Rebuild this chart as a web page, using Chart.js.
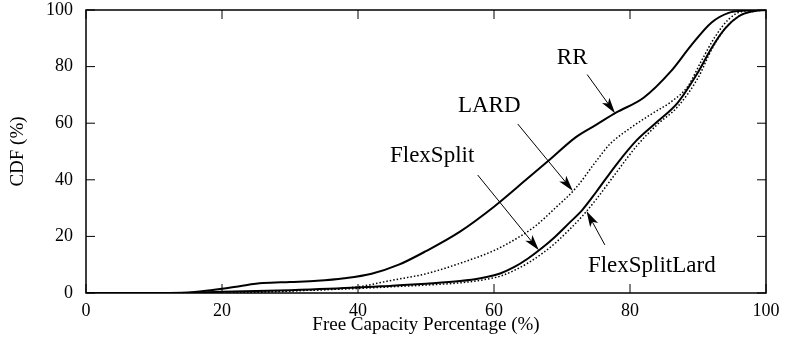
<!DOCTYPE html>
<html>
<head>
<meta charset="utf-8">
<script src="https://cdn.jsdelivr.net/npm/chart.js@4.4.1/dist/chart.umd.min.js"></script>
<style>
  html, body { margin: 0; padding: 0; background: #fff; }
  #wrap { width: 787px; height: 356px; }
</style>
</head>
<body>
<div id="wrap"><canvas id="cdfChart"></canvas></div>
<script>
// CDF of free capacity per policy
var rrX = [0, 14, 17, 20, 23, 26, 30, 34, 38, 42, 46, 50, 55, 60, 65, 68, 72, 75, 78, 82, 86, 89, 92, 94.5, 97, 100];
var rrY = [0, 0, 0.6, 1.5, 2.6, 3.5, 3.9, 4.3, 5.2, 6.8, 10, 14.8, 21.7, 30.5, 40.6, 46.7, 55, 59.4, 63.8, 69, 78.3, 87.5, 95.6, 99, 99.8, 100];

var lardX = [0, 20, 30, 40, 45, 50, 55, 60, 63, 66, 69, 72, 75, 77, 80, 83, 86, 88.5, 90.5, 92.5, 94.5, 96.5, 100];
var lardY = [0, 0, 0.7, 2.2, 4.5, 6.8, 10.5, 15, 18.8, 23.5, 30, 37, 46.5, 52.5, 58.2, 63, 67.5, 73, 82, 90.5, 96.7, 99.5, 100];

var flexX = [0, 10, 20, 30, 40, 45, 50, 55, 58, 61, 63, 65, 67, 69, 71, 73, 75, 78, 81, 84, 87, 90, 92, 94, 96, 98, 100];
var flexY = [0, 0, 0.4, 1.0, 1.9, 2.6, 3.3, 4.2, 5.2, 7.0, 9.2, 12.2, 15.8, 19.9, 24.6, 29.4, 35.6, 45.4, 54, 60.5, 67.2, 78, 86.6, 93.5, 97.8, 99.5, 100];

var flexLardX = [0, 10, 20, 30, 40, 45, 50, 55, 58, 61, 63, 65, 67, 69, 71, 73, 75, 78, 81, 84, 87, 90, 92, 94, 96, 98, 100];
var flexLardY = [0, 0, 0.3, 0.8, 1.6, 2.2, 2.8, 3.6, 4.5, 6.0, 8.0, 10.6, 13.8, 17.6, 22.2, 27.2, 33, 42.6, 52, 59.5, 65.8, 76, 86, 93.5, 97.8, 99.5, 100];

var xTicks = [0, 20, 40, 60, 80, 100];
var yTicks = [0, 20, 40, 60, 80, 100];

var serif = '"Liberation Serif", "Times New Roman", Times, serif';

function pts(xs, ys) {
  return xs.map(function (x, i) { return { x: x, y: ys[i] }; });
}

// y of a curve at x, straight line between samples
function valueAt(xs, ys, x) {
  for (var i = 1; i < xs.length; i++) {
    if (x <= xs[i]) {
      var t = (x - xs[i - 1]) / (xs[i] - xs[i - 1]);
      return ys[i - 1] + t * (ys[i] - ys[i - 1]);
    }
  }
  return ys[ys.length - 1];
}

// labels with arrows pointing at the curves (data units)
var notes = [
  { text: 'RR', at: [71.5, 83], from: [73.7, 77.2], tipX: 77.8, xs: rrX, ys: rrY },
  { text: 'LARD', at: [59.3, 66], from: [63.5, 59.7], tipX: 71.6, xs: lardX, ys: lardY },
  { text: 'FlexSplit', at: [50.9, 48.4], from: [57.6, 41.7], tipX: 66.6, xs: flexX, ys: flexY },
  { text: 'FlexSplitLard', at: [83.2, 9.5], from: [76.3, 17], tipX: 73.6, xs: flexLardX, ys: flexLardY }
];

function arrow(ctx, fx, fy, tx, ty) {
  var ang = Math.atan2(ty - fy, tx - fx);
  var len = 16, half = 4.5, notch = 4;
  ctx.beginPath();
  ctx.moveTo(fx, fy);
  ctx.lineTo(tx - Math.cos(ang) * notch, ty - Math.sin(ang) * notch);
  ctx.stroke();
  ctx.save();
  ctx.translate(tx, ty);
  ctx.rotate(ang);
  ctx.beginPath();
  ctx.moveTo(0, 0);
  ctx.lineTo(-len, -half);
  ctx.lineTo(-len + notch, 0);
  ctx.lineTo(-len, half);
  ctx.closePath();
  ctx.fill();
  ctx.restore();
}

var framePlugin = {
  id: 'frame',
  afterDatasetsDraw: function (chart) {
    var ctx = chart.ctx, a = chart.chartArea;
    var sx = chart.scales.x, sy = chart.scales.y;
    ctx.save();
    ctx.strokeStyle = '#000';
    ctx.fillStyle = '#000';
    ctx.lineWidth = 1.5;
    ctx.strokeRect(a.left, a.top, a.right - a.left, a.bottom - a.top);

    // inward ticks on all four sides
    ctx.lineWidth = 1;
    var tk = 9;
    ctx.beginPath();
    xTicks.forEach(function (v) {
      var px = sx.getPixelForValue(v);
      ctx.moveTo(px, a.bottom); ctx.lineTo(px, a.bottom - tk);
      ctx.moveTo(px, a.top); ctx.lineTo(px, a.top + tk);
    });
    yTicks.forEach(function (v) {
      var py = sy.getPixelForValue(v);
      ctx.moveTo(a.left, py); ctx.lineTo(a.left + tk, py);
      ctx.moveTo(a.right, py); ctx.lineTo(a.right - tk, py);
    });
    ctx.stroke();

    ctx.font = '23px ' + serif;
    ctx.textAlign = 'center';
    ctx.textBaseline = 'middle';
    notes.forEach(function (n) {
      ctx.fillText(n.text, sx.getPixelForValue(n.at[0]), sy.getPixelForValue(n.at[1]));
      var ty = valueAt(n.xs, n.ys, n.tipX);
      arrow(ctx,
        sx.getPixelForValue(n.from[0]), sy.getPixelForValue(n.from[1]),
        sx.getPixelForValue(n.tipX), sy.getPixelForValue(ty));
    });
    ctx.restore();
  }
};

function series(label, xs, ys, dotted) {
  return {
    label: label,
    data: pts(xs, ys),
    borderColor: '#000',
    borderWidth: dotted ? 1.5 : 2,
    borderDash: dotted ? [1.5, 2] : [],
    pointRadius: 0,
    fill: false,
    cubicInterpolationMode: 'monotone'
  };
}

var ctx = document.getElementById('cdfChart').getContext('2d');
var cdfChart = new Chart(ctx, {
  type: 'line',
  data: {
    datasets: [
      series('RR', rrX, rrY, false),
      series('LARD', lardX, lardY, true),
      series('FlexSplit', flexX, flexY, false),
      series('FlexSplitLard', flexLardX, flexLardY, true)
    ]
  },
  options: {
    responsive: true,
    maintainAspectRatio: false,
    animation: false,
    layout: { padding: { top: 10, right: 21, left: 0, bottom: 0 } },
    plugins: { legend: { display: false }, tooltip: { enabled: false } },
    scales: {
      x: {
        type: 'linear',
        min: 0, max: 100,
        afterFit: function (s) { s.height = 63; },
        afterBuildTicks: function (s) { s.ticks = xTicks.map(function (v) { return { value: v }; }); },
        grid: { display: false, drawTicks: false },
        border: { display: false },
        ticks: { padding: 7, color: '#000', font: { family: serif, size: 18 } },
        title: {
          display: true, text: 'Free Capacity Percentage (%)', color: '#000',
          font: { family: serif, size: 19 }, padding: { top: 0, bottom: 20 }
        }
      },
      y: {
        min: 0, max: 100,
        afterFit: function (s) { s.width = 86; s.paddingTop = 0; s.paddingBottom = 0; },
        afterBuildTicks: function (s) { s.ticks = yTicks.map(function (v) { return { value: v }; }); },
        grid: { display: false, drawTicks: false },
        border: { display: false },
        ticks: { padding: 13, color: '#000', font: { family: serif, size: 18 } },
        title: {
          display: true, text: 'CDF (%)', color: '#000',
          font: { family: serif, size: 19 }, padding: { top: 7, bottom: 0 }
        }
      }
    }
  },
  plugins: [framePlugin]
});
</script>
</body>
</html>
